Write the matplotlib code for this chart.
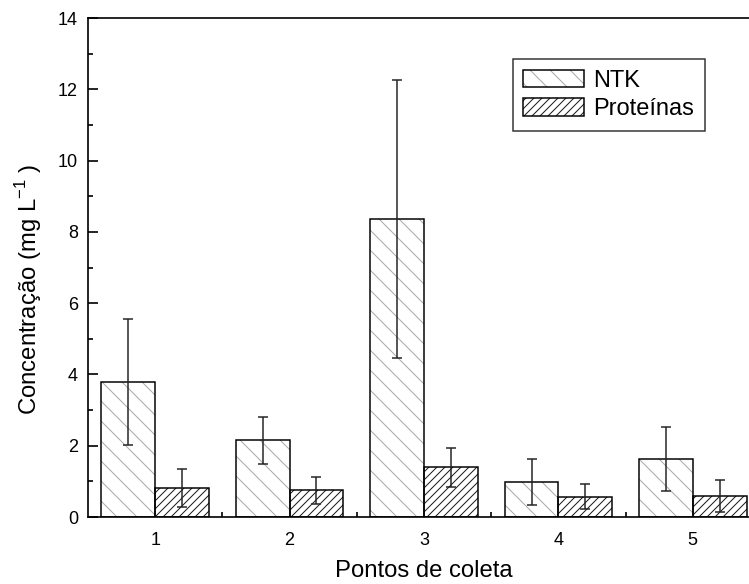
"""Bar chart: NTK and protein concentrations at five sampling points."""

import numpy as np
import matplotlib as mpl
import matplotlib.pyplot as plt
from matplotlib.patches import Patch
from matplotlib.legend_handler import HandlerTuple
from matplotlib.ticker import FixedLocator, NullFormatter

# data
pontos = [1, 2, 3, 4, 5]
ntk = [3.79, 2.15, 8.35, 0.99, 1.63]
ntk_err = [1.76, 0.66, 3.90, 0.64, 0.89]
proteinas = [0.82, 0.75, 1.39, 0.57, 0.59]
proteinas_err = [0.54, 0.38, 0.54, 0.35, 0.45]

DPI = 120
mpl.rcParams.update(
    {
        "font.family": ["Liberation Sans", "DejaVu Sans"],
        "mathtext.fontset": "custom",
        "mathtext.rm": "Liberation Sans",
        "hatch.linewidth": 0.6,
        "axes.linewidth": 1.0,
    }
)

fig = plt.figure(figsize=(749 / DPI, 584 / DPI), dpi=DPI)
ax = fig.add_axes([88 / 749, 1 - 517 / 584, 672 / 749, 499 / 584])

x = np.asarray(pontos, dtype=float)
w = 0.4
x_ntk = x - w / 2
x_prot = x + w / 2

# hatch layers (hatch colour follows edgecolor), then black outlines on top
ax.bar(x_ntk, ntk, w, facecolor="white", edgecolor="#a8a8a8", lw=0, hatch="\\\\", zorder=2)
ax.bar(x_prot, proteinas, w, facecolor="white", edgecolor="#1a1a1a", lw=0, hatch="/////", zorder=2)
ax.bar(x_ntk, ntk, w, fill=False, edgecolor="black", lw=0.9, zorder=3)
ax.bar(x_prot, proteinas, w, fill=False, edgecolor="black", lw=0.9, zorder=3)

ekw = dict(fmt="none", ecolor="#222222", elinewidth=0.9, capsize=3, capthick=0.9, zorder=4)
ax.errorbar(x_ntk, ntk, yerr=ntk_err, **ekw)
ax.errorbar(x_prot, proteinas, yerr=proteinas_err, **ekw)

ax.set_xlim(0.5, 5.5)
ax.set_ylim(0, 14)

# x: labels at the groups, short inward ticks between groups
ax.set_xticks(pontos)
ax.set_xticklabels([str(p) for p in pontos])
ax.tick_params(axis="x", which="major", length=0, pad=9, labelsize=10.8)
ax.xaxis.set_minor_locator(FixedLocator([1.5, 2.5, 3.5, 4.5]))
ax.xaxis.set_minor_formatter(NullFormatter())
ax.tick_params(axis="x", which="minor", direction="in", length=3, width=1.0)

ax.set_yticks(np.arange(0, 15, 2))
ax.yaxis.set_minor_locator(FixedLocator(np.arange(1, 14, 2)))
ax.tick_params(axis="y", which="major", direction="in", length=6, width=1.0, pad=6, labelsize=10.8)
ax.tick_params(axis="y", which="minor", direction="in", length=3, width=1.0)

ax.spines["right"].set_visible(False)

ax.set_xlabel("Pontos de coleta", fontsize=14.3, va="baseline")
ax.xaxis.set_label_coords(0.5, -0.121)
ax.set_ylabel("Concentração (mg L$^{\\mathregular{-1}}$ )", fontsize=14.3)
ax.yaxis.set_label_coords(-0.066, 0.457)

h_ntk = (
    Patch(facecolor="white", edgecolor="#a8a8a8", lw=0, hatch="\\\\"),
    Patch(fill=False, edgecolor="black", lw=0.9),
)
h_prot = (
    Patch(facecolor="white", edgecolor="#1a1a1a", lw=0, hatch="/////"),
    Patch(fill=False, edgecolor="black", lw=0.9),
)
leg = ax.legend(
    [h_ntk, h_prot],
    ["NTK", "Proteínas"],
    handler_map={tuple: HandlerTuple(ndivide=1)},
    loc="upper left",
    bbox_to_anchor=(0.632, 0.918),
    fontsize=14.2,
    frameon=True,
    fancybox=False,
    edgecolor="black",
    handlelength=2.55,
    handleheight=0.78,
    handletextpad=0.4,
    labelspacing=0.28,
    borderpad=0.45,
    borderaxespad=0,
)
leg.get_frame().set_linewidth(0.9)

fig.savefig("out.png", dpi=DPI)
